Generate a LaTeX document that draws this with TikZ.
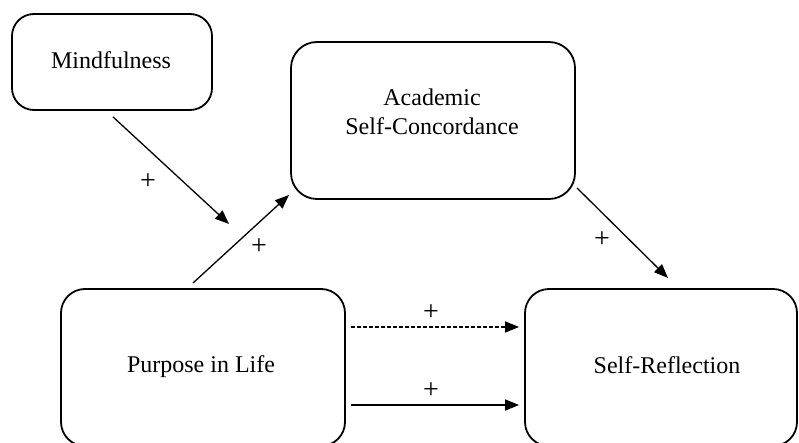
\documentclass[tikz,border=0pt]{standalone}
\usepackage{fontspec}
\setmainfont{Liberation Serif}
\usetikzlibrary{arrows.meta,calc}
\begin{document}
\begin{tikzpicture}[x=1pt,y=-1pt,
  box/.style={draw, line width=1.8pt, rounded corners=#1, inner sep=0pt},
  lbl/.style={font=\fontsize{24}{29}\selectfont, inner sep=0pt},
  sign/.style={font=\fontsize{28}{30}\selectfont, inner sep=0pt},
  arr/.style={line width=1.3pt, -{Triangle[length=14pt,width=11pt]}},
  dasharr/.style={arr, dash pattern=on 4pt off 2pt}]
\useasboundingbox (0,0) rectangle (799,443);
\fill[white] (0,0) rectangle (799,443);
% boxes
\node[box=22pt, minimum width=200pt, minimum height=96pt] (mind) at (112,62) {};
\node[box=26pt, minimum width=284pt, minimum height=157pt] (acad) at (433,120.5) {};
\node[box=24pt, minimum width=284pt, minimum height=157pt] (purp) at (203,367.5) {};
\node[box=24pt, minimum width=272pt, minimum height=157pt] (selfr) at (661,367.5) {};
% labels
\node[lbl, anchor=base] (mindt) at (111,69) {Mindfulness};
\node[lbl, align=center] (acadt) at (432,112) {Academic\\Self-Concordance};
\node[lbl, anchor=base] (purpt) at (201,372) {Purpose in Life};
\node[lbl, anchor=base] (selft) at (667,373) {Self-Reflection};
% connector ends
\coordinate (m1) at ($(mind.south)+(1,6)$);
\coordinate (m2) at (229,224);
\coordinate (p1) at (193,283);
\coordinate (p2) at (289,195);
\coordinate (a1) at (577,188);
\coordinate (a2) at (668,278);
\coordinate (d1) at ($(purp.east)+(5,-40.5)$);
\coordinate (d2) at ($(selfr.west)+(-5,-40.5)$);
\coordinate (s1) at ($(purp.east)+(5,37.5)$);
\coordinate (s2) at ($(selfr.west)+(-5,37.5)$);
% connectors
\draw[arr] (m1) -- (m2);
\draw[arr] (p1) -- (p2);
\draw[arr] (a1) -- (a2);
\draw[dasharr] (d1) -- (d2);
\draw[arr] (s1) -- (s2);
% signs
\node[sign] (pl1) at (148,182) {+};
\node[sign] (pl2) at (259,247) {+};
\node[sign] (pl3) at (602,240) {+};
\node[sign] (pl4) at (431,313) {+};
\node[sign] (pl5) at (431,391) {+};
\end{tikzpicture}
\end{document}
